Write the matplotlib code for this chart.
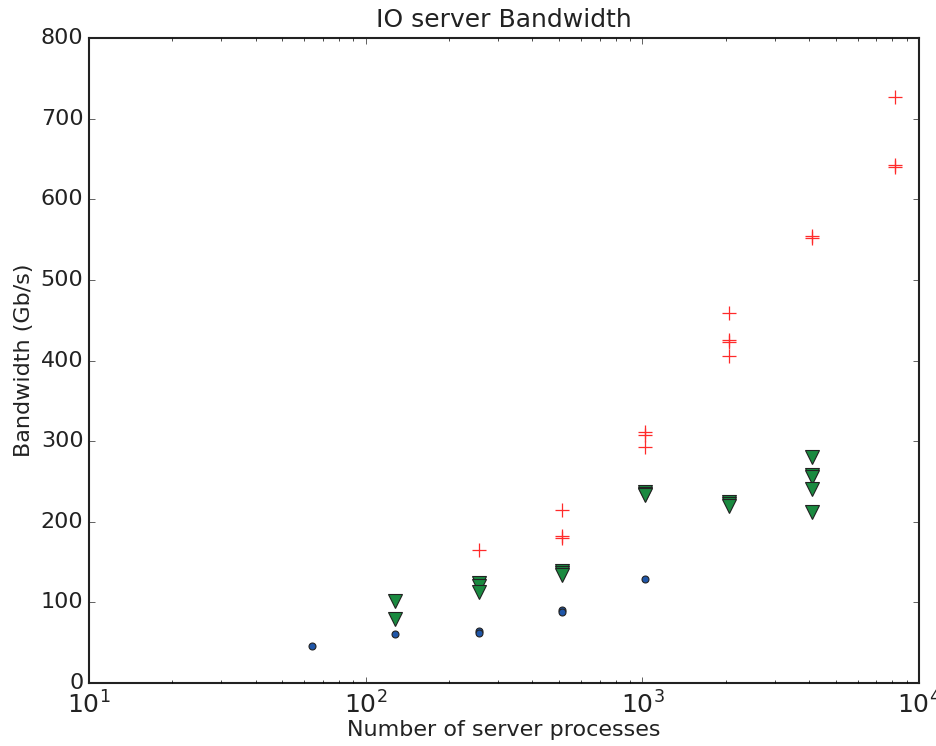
import matplotlib
matplotlib.use('Agg')
import matplotlib.pyplot as plt
import numpy as np

# server processes vs bandwidth (Gb/s), three runs
circ_x = [64, 128, 256, 256, 512, 512, 1024]
circ_y = [46, 61, 64, 62, 91, 88, 129]

tri_x = [128, 128, 256, 256, 256, 512, 512, 512, 1024, 1024, 1024,
         2048, 2048, 2048, 4096, 4096, 4096, 4096, 4096]
tri_y = [102, 79, 124, 120, 113, 139, 137, 134, 237, 235, 233,
         224, 222, 220, 280, 258, 256, 240, 212]

plus_x = [256, 512, 512, 512, 1024, 1024, 1024, 2048, 2048, 2048, 2048,
          4096, 4096, 8192, 8192, 8192]
plus_y = [165, 215, 182, 180, 311, 308, 293, 459, 425, 423, 405,
          555, 552, 727, 643, 640]

plt.style.use('classic')
fig = plt.figure(figsize=(9.37, 7.46), dpi=100, facecolor='white')
ax = fig.add_axes([0.095, 0.0845, 0.886, 0.8645])

ax.plot(circ_x, circ_y, linestyle='none', marker='o', markersize=5,
        markerfacecolor='#1f56a8', markeredgecolor='#222222', markeredgewidth=0.8)
ax.plot(tri_x, tri_y, linestyle='none', marker='v', markersize=10,
        markerfacecolor='#1a8a40', markeredgecolor='#222222', markeredgewidth=0.8)
ax.plot(plus_x, plus_y, linestyle='none', marker='+', markersize=10,
        markeredgecolor='#ff2a2a', markeredgewidth=0.9)

ax.set_xscale('log')
ax.set_xlim(10, 1e4)
ax.set_ylim(0, 800)
ax.set_xlabel('Number of server processes', fontsize=16, color='#222222', labelpad=1)
ax.set_ylabel('Bandwidth (Gb/s)', fontsize=16, color='#222222')
ax.set_title('IO server Bandwidth', fontsize=18, color='#222222', pad=8)
ax.tick_params(axis='y', labelsize=16, colors='#222222')
ax.tick_params(axis='x', labelsize=18, colors='#222222', pad=6)
for s in ax.spines.values():
    s.set_linewidth(1.5)
    s.set_color('#222222')

fig.savefig('out.png', dpi=100, facecolor='white')
